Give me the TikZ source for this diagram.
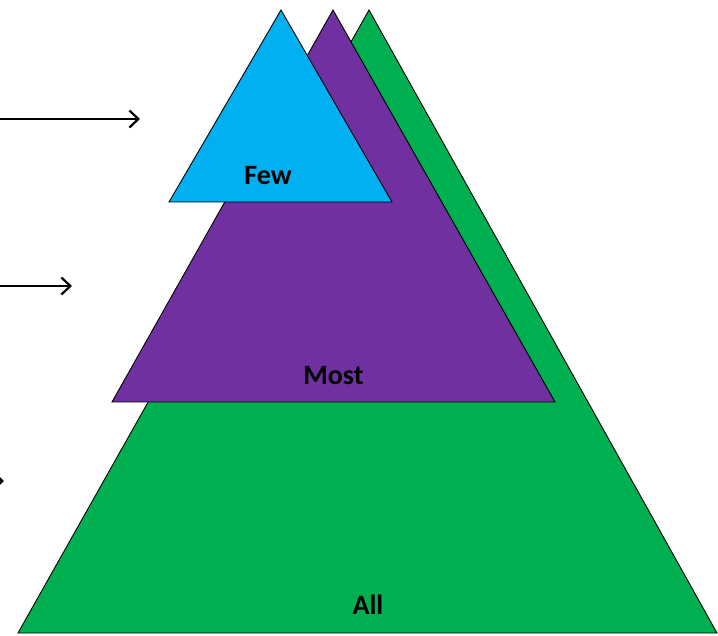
\documentclass[tikz,border=0pt]{standalone}
\usepackage{fontspec}
\setmainfont{Carlito}
\usetikzlibrary{calc, positioning, arrows.meta}
\definecolor{levelAll}{RGB}{0, 176, 80}
\definecolor{levelMost}{RGB}{112, 48, 160}
\definecolor{levelFew}{RGB}{0, 176, 240}

\begin{document}
\begin{tikzpicture}[x=1pt, y=-1pt,
    tri/.style={draw=black, line width=0.9pt, line join=miter},
    lbl/.style={font=\fontsize{28}{32}\selectfont\bfseries, inner sep=0pt, anchor=base},
    pointer/.style={-{Straight Barb[length=9pt, width=17pt, line width=2.2pt]}, line width=2.2pt}]
  \useasboundingbox (0,0) rectangle (718,636);

  % Triangle corners
  \coordinate (allTop) at (369,10);
  \coordinate (allL) at (18,633);
  \coordinate (allR) at (717,633);
  \coordinate (mostTop) at (333,10);
  \coordinate (mostL) at (112,402);
  \coordinate (mostR) at (555,402);
  \coordinate (fewTop) at (281,10);
  \coordinate (fewL) at (169,202);
  \coordinate (fewR) at (392,202);

  \filldraw[tri, fill=levelAll] (allTop) -- (allL) -- (allR) -- cycle;
  \filldraw[tri, fill=levelMost] (mostTop) -- (mostL) -- (mostR) -- cycle;
  \filldraw[tri, fill=levelFew] (fewTop) -- (fewL) -- (fewR) -- cycle;

  \node[lbl] (few) at (268,184.5) {Few};
  \node[lbl] (most) at (333.5,384.5) {Most};
  \node[lbl] (all) at (368,614.5) {All};

  % Arrows from the left edge
  \coordinate (aS) at (-5,119);
  \coordinate (aE) at (140,119);
  \coordinate (bS) at (-5,286);
  \coordinate (bE) at (72,286);
  \coordinate (cS) at (-80,481);
  \coordinate (cE) at (4,481);
  \draw[pointer] (aS) -- (aE);
  \draw[pointer] (bS) -- (bE);
  \draw[pointer] (cS) -- (cE);
\end{tikzpicture}
\end{document}
